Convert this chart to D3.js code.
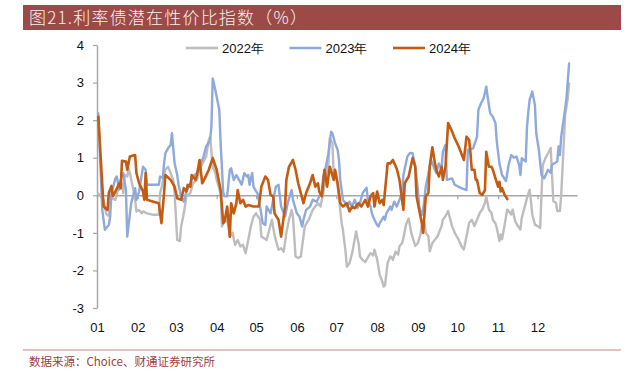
<!DOCTYPE html>
<html><head><meta charset="utf-8">
<script src="https://cdn.jsdelivr.net/npm/d3@7"></script>
<style>body{margin:0;background:#fff}</style>
</head><body>
<svg id="c" width="643" height="372"></svg>
<script>
// ---- data (x = day of year, y = index value %) ----
const titleText = "图21.利率债潜在性价比指数（%）";
const sourceText = "数据来源：Choice、财通证券研究所";
const monthDays = [1,32,61,92,122,153,183,214,245,275,306,336];
const monthLabels = ["01","02","03","04","05","06","07","08","09","10","11","12"];
const yTicks = [-3,-2,-1,0,1,2,3,4];
const seriesNames = ["2022年","2023年","2024年"];
const seriesColors = ["#BDBDBD","#8EA9DB","#C55A11"];

const days2022 = [2,6,8,10,11,12,15,17,19,21,22,24,25,26,27,29,30,31,33,35,36,39,44,48,49,50,52,53,55,57,59,60,62,64,65,67,69,72,74,77,79,82,84,86,87,89,91,92,95,96,97,99,101,102,104,106,108,110,112,114,116,118,120,122,125,126,130,132,134,136,139,141,143,145,147,149,150,152,154,156,157,159,162,164,165,168,169,171,173,175,177,178,180,181,183,184,186,187,188,190,191,193,195,196,198,200,201,203,205,207,209,211,212,214,216,218,219,220,222,224,225,226,228,230,231,233,234,236,238,240,243,245,247,248,250,251,253,254,256,258,260,263,264,266,268,270,271,273,276,278,280,282,284,286,288,290,292,294,296,297,299,301,302,304,305,307,308,309,311,313,314,316,317,319,321,323,324,326,328,330,331,332,334,336,338,339,340,342,344,346,347,348,350,351,353,354,356,357,359,360];
const values2022 = [0.05,-0.12,-0.50,-0.55,-0.20,-0.07,-0.12,0.15,0.41,0.06,0.54,0.50,0.72,0.59,0.41,0.10,-0.12,-0.43,-0.39,-0.48,-0.43,-0.48,-0.52,-0.52,0.06,0.19,0.54,0.68,0.76,0.59,0.41,0.06,-1.19,-1.22,-0.83,-0.48,-0.03,0.06,0.32,0.41,0.68,0.90,1.03,1.47,1.56,0.76,0.59,0.41,0.06,-0.83,-0.74,-0.57,-0.83,-1.10,-1.00,-1.32,-1.19,-1.36,-1.32,-1.54,-1.19,-0.83,-0.57,-0.48,-0.65,-1.10,-1.19,-0.92,-0.65,-1.06,-1.45,-1.41,-1.50,-1.00,-0.65,-0.39,-0.57,-1.63,-1.67,-1.63,-1.36,-0.83,-0.65,-0.48,-0.39,-0.25,-0.21,-0.30,0.06,0.50,0.85,1.52,1.39,0.54,0.41,0.23,-0.40,-0.74,-0.92,-1.50,-1.90,-1.81,-1.54,-1.36,-0.96,-1.30,-1.63,-1.72,-1.78,-1.65,-1.54,-1.60,-1.45,-1.70,-2.12,-2.30,-2.43,-2.40,-1.80,-1.63,-1.65,-1.72,-1.50,-1.58,-1.36,-1.27,-1.14,-0.78,-0.62,-1.00,-1.35,-1.27,-1.04,-0.82,-0.73,-1.00,-1.09,-1.49,-1.27,-1.18,-1.09,-0.82,-0.65,-0.56,-0.42,-0.69,-0.82,-1.00,-1.18,-1.35,-1.44,-1.09,-0.73,-0.65,-0.82,-0.65,-0.47,-0.38,-0.20,-0.03,-0.38,-0.47,-0.65,-0.75,-0.87,-1.22,-1.04,-1.17,-0.78,-0.38,-0.42,-0.51,-0.38,-0.69,-0.82,-0.91,-0.60,-0.34,-0.07,0.15,-0.16,-0.51,-0.78,-0.82,-0.87,0.02,0.81,0.99,1.12,1.26,0.55,-0.16,-0.20,-0.42,-0.42,0.02,1.43,2.14,2.58,2.98];

const days2023 = [2,5,7,10,11,12,15,16,18,20,21,23,24,27,30,31,33,36,38,39,46,48,49,51,52,53,55,57,58,59,60,62,63,65,67,69,72,74,77,79,82,84,87,88,89,91,94,95,97,98,100,102,103,105,107,109,111,113,115,116,117,119,120,122,123,125,127,129,130,133,135,137,139,141,143,144,146,149,150,153,155,157,158,160,163,165,168,170,172,173,175,177,179,180,182,184,185,186,188,190,191,193,195,197,199,201,203,206,207,209,210,211,212,214,215,216,219,220,221,224,225,227,229,231,233,234,237,239,241,243,245,246,248,249,251,253,255,257,259,261,263,264,266,267,271,273,278,282,283,287,290,291,293,295,297,298,300,302,304,305,307,309,312,314,316,318,320,322,323,324,327,328,329,330,332,334,335,337,339,341,344,346,347,351,352,353,354,356,358,360];
const values2023 = [2.18,-0.39,-0.92,-0.79,-0.57,0.06,0.45,0.50,0.15,0.59,0.59,0.14,-1.10,-0.21,0.19,-0.12,0.10,0.76,0.68,0.28,0.28,0.28,0.50,0.46,0.85,1.12,1.25,1.34,1.65,1.25,0.85,0.54,0.28,-0.03,-0.17,0.10,0.32,0.50,0.59,0.76,1.03,1.30,1.47,1.83,3.11,2.80,2.27,1.39,0.06,-0.03,-0.03,0.68,0.72,0.41,0.54,0.41,0.28,0.59,0.50,0.54,0.28,0.59,0.23,0.10,0.06,-0.30,-0.74,-0.79,-0.30,-0.48,-0.12,0.23,0.28,-0.30,-0.48,-0.57,-0.21,0.14,-0.12,-0.48,-0.57,-0.83,-0.65,-0.39,-0.30,-0.12,-0.17,-0.03,0.10,0.50,0.76,1.12,1.69,1.65,1.39,1.21,0.94,0.41,-0.12,-0.21,-0.30,-0.17,-0.30,-0.12,-0.34,-0.21,0.06,0.20,-0.12,-0.30,-0.48,-0.57,-0.65,-0.79,-0.83,-0.74,-0.57,-0.65,-0.48,-0.30,-0.39,-0.17,-0.30,-0.12,0.06,0.54,1.03,1.13,1.12,0.76,0.15,-0.30,-0.52,-0.39,0.23,0.59,0.94,0.76,0.59,0.85,0.68,1.16,1.34,0.41,0.45,0.28,0.19,0.14,1.21,1.25,1.56,2.27,2.45,2.58,2.89,2.63,2.18,2.09,1.92,1.43,0.85,0.54,0.38,0.81,1.07,1.00,1.03,0.81,0.54,0.99,0.90,1.83,2.23,2.54,2.76,2.40,1.65,1.21,0.54,0.45,0.68,0.60,0.81,0.90,1.30,1.07,1.56,2.05,2.58,3.51];

const days2024 = [2,6,9,10,12,13,15,18,19,20,23,24,26,30,31,33,36,37,38,39,44,48,50,52,53,57,60,62,65,67,69,70,72,73,76,77,79,81,83,86,89,92,95,97,98,100,102,103,105,107,108,110,112,114,116,120,124,126,129,131,133,135,136,139,141,144,145,147,150,152,154,158,160,163,165,167,169,170,172,174,176,177,178,181,182,184,186,188,191,193,195,197,200,202,205,207,209,211,212,214,216,218,219,222,224,226,229,231,234,235,238,241,243,244,246,248,249,251,253,254,256,258,259,261,263,264,266,268,271,273,276,278,280,282,284,285,286,288,289,290,292,294,296,297,299,301,302,304,306,307,308,309,311,313];
const values2024 = [2.09,-0.30,-0.39,0.06,0.25,-0.02,0.10,0.32,0.19,0.92,0.90,0.68,1.03,1.07,0.59,0.32,0.10,-0.12,0.59,-0.12,-0.17,-0.21,-0.74,0.06,0.54,0.41,0.23,-0.08,-0.12,0.19,0.10,0.28,0.23,0.54,0.41,0.54,0.94,0.32,0.45,0.68,0.99,0.68,0.14,-0.74,-0.70,-0.30,-1.10,-0.21,-0.48,-0.21,0.14,-0.21,-0.12,-0.30,-0.26,-0.30,-0.30,0.23,0.50,0.41,0.01,-0.03,-0.48,-0.65,-1.10,-0.30,0.41,0.76,0.94,0.68,0.32,-0.21,0.06,0.32,0.54,0.23,0.32,0.10,-0.03,0.68,0.23,0.50,0.76,0.41,0.68,0.32,-0.21,-0.30,-0.21,-0.43,-0.30,-0.34,-0.21,-0.30,-0.12,-0.30,-0.03,0.06,-0.30,0.10,-0.21,-0.12,-0.26,0.85,0.85,0.94,0.70,0.41,-0.39,0.32,0.50,0.99,0.76,-0.03,-0.39,-0.74,-1.00,-0.03,0.06,0.76,1.28,0.85,0.68,0.50,0.76,0.41,0.76,1.92,1.70,1.52,1.30,1.12,0.94,1.56,1.47,1.12,0.68,0.68,0.41,0.41,0.06,0.01,0.14,1.16,0.76,0.76,0.68,0.45,0.23,0.36,0.10,0.19,0.01,-0.10];

// ---- drawing ----
const svg = d3.select("#c");
const axisFont = "'Liberation Sans', Arial, sans-serif";
const cjkFont = "'Noto Sans CJK SC', sans-serif";

// title bar
svg.append("rect").attr("x", 23).attr("y", 5).attr("width", 598).attr("height", 25).attr("fill", "#9B4A47");
svg.append("text").attr("x", 29).attr("y", 23.5)
  .attr("font-family", cjkFont).attr("font-size", 17).attr("font-weight", 300)
  .attr("letter-spacing", 1.2).attr("fill", "#F7F1F0")
  .text(titleText);

const x = d3.scaleLinear().domain([1, 366]).range([97, 577]);
const y = d3.scaleLinear().domain([-3, 4]).range([308, 45]);
const axisColor = "#A6A6A6";

// y axis
const ya = svg.append("g").attr("transform", "translate(97,0)")
  .call(d3.axisLeft(y).tickValues(yTicks).tickSize(4).tickSizeOuter(0).tickPadding(9).tickFormat(d => String(d)));
ya.select(".domain").attr("stroke", axisColor).attr("stroke-width", 1.5);
ya.selectAll(".tick line").attr("stroke", axisColor).attr("stroke-width", 1.2);
ya.selectAll("text").attr("font-family", axisFont).attr("font-size", 13).attr("fill", "#111");

// zero line with month ticks
const xa = svg.append("g").attr("transform", `translate(0,${y(0)})`)
  .call(d3.axisBottom(x).tickValues(monthDays).tickSize(4).tickSizeOuter(0).tickFormat(""));
xa.select(".domain").attr("stroke", axisColor).attr("stroke-width", 1.5);
xa.selectAll(".tick line").attr("stroke", axisColor).attr("stroke-width", 1.2);

// month labels at the bottom
const xl = svg.append("g").attr("transform", "translate(0,319)")
  .call(d3.axisBottom(x).tickValues(monthDays).tickSize(0).tickPadding(4).tickFormat((d, i) => monthLabels[i]));
xl.select(".domain").remove();
xl.selectAll("text").attr("font-family", axisFont).attr("font-size", 13).attr("fill", "#111");

// lines
const line = d3.line().x(d => x(d[0])).y(d => y(d[1])).curve(d3.curveLinear);
const series = [
  d3.zip(days2022, values2022),
  d3.zip(days2023, values2023),
  d3.zip(days2024, values2024)
];
series.forEach((s, i) => {
  svg.append("path").datum(s).attr("d", line)
    .attr("fill", "none").attr("stroke", seriesColors[i])
    .attr("stroke-width", i === 2 ? 2.6 : 2.4)
    .attr("stroke-linejoin", "round").attr("stroke-linecap", "round");
});

// legend
seriesNames.forEach((n, i) => {
  const lx = 186 + i * 103.5;
  svg.append("line").attr("x1", lx).attr("x2", lx + 32).attr("y1", 48).attr("y2", 48)
    .attr("stroke", seriesColors[i]).attr("stroke-width", 2.6);
  svg.append("text").attr("x", lx + 36).attr("y", 52.5)
    .attr("font-family", axisFont).attr("font-size", 13).attr("fill", "#111").text(n);
});

// footer
svg.append("line").attr("x1", 23).attr("x2", 621).attr("y1", 350).attr("y2", 350)
  .attr("stroke", "#C9817E").attr("stroke-width", 1);
svg.append("text").attr("x", 29).attr("y", 365.5)
  .attr("font-family", cjkFont).attr("font-size", 11.5).attr("fill", "#A0403C")
  .text(sourceText);
</script>
</body></html>
